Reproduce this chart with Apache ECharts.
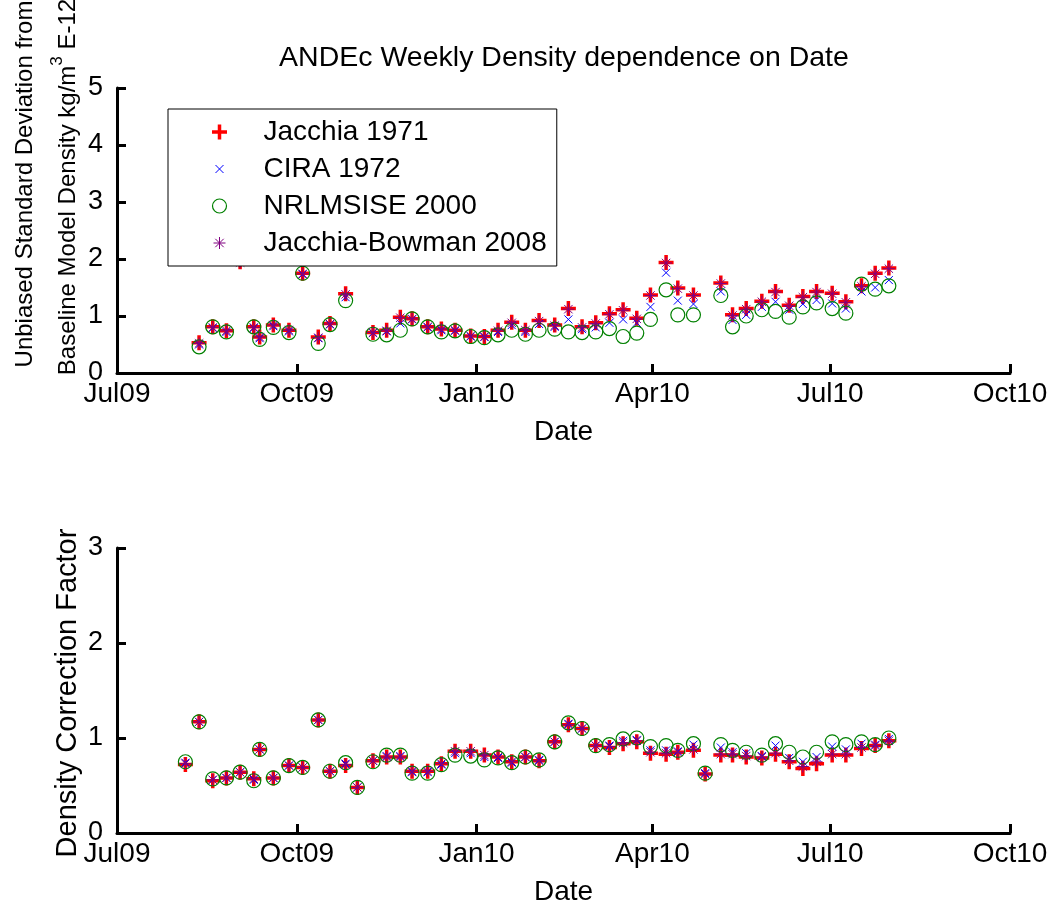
<!DOCTYPE html>
<html><head><meta charset="utf-8">
<script src="https://cdn.jsdelivr.net/npm/echarts@6/dist/echarts.min.js"></script>
<style>html,body{margin:0;padding:0;background:#fff}#c{width:1055px;height:909px}</style>
</head><body><div id="c"></div>
<script>
// Weekly dates
const dates = ['2009-08-05','2009-08-12','2009-08-19','2009-08-26','2009-09-02','2009-09-09','2009-09-12','2009-09-19','2009-09-27','2009-10-04',
 '2009-10-12','2009-10-18','2009-10-26','2009-11-01','2009-11-09','2009-11-16','2009-11-23','2009-11-29','2009-12-07','2009-12-14',
 '2009-12-21','2009-12-29','2010-01-05','2010-01-12','2010-01-19','2010-01-26','2010-02-02','2010-02-10','2010-02-17','2010-02-24',
 '2010-03-03','2010-03-10','2010-03-17','2010-03-24','2010-03-31','2010-04-08','2010-04-14','2010-04-22','2010-04-28','2010-05-06',
 '2010-05-12','2010-05-19','2010-05-27','2010-06-03','2010-06-10','2010-06-17','2010-06-24','2010-07-02','2010-07-09','2010-07-17',
 '2010-07-24','2010-07-31'];

// Top panel: unbiased standard deviation (kg/m^3 E-12)
const stdJacchia71 = [null,0.53,0.81,0.74,1.95,0.81,0.63,0.84,0.75,1.75, 0.63,0.87,1.39,null,0.71,0.75,0.98,0.95,0.81,0.77,
 0.75,0.65,0.64,0.75,0.89,0.75,0.92,0.84,1.13,0.81, 0.88,1.04,1.11,0.96,1.37,1.94,1.49,1.37,null,1.58,
 1.02,1.13,1.26,1.43,1.19,1.34,1.43,1.40,1.25,1.53, 1.75,1.84];
const stdCira72 = [null,0.50,0.79,0.72,2.00,0.79,0.61,0.82,0.73,1.73, 0.61,0.85,1.33,null,0.70,0.73,0.87,0.94,0.80,0.75,
 0.74,0.64,0.63,0.72,0.84,0.72,0.86,0.81,0.94,0.77, 0.80,0.88,0.94,0.88,1.16,1.76,1.27,1.21,null,1.43,
 0.93,1.02,1.16,1.25,1.11,1.21,1.28,1.22,1.13,1.43, 1.50,1.63];
const stdNrlmsise00 = [null,0.46,0.81,0.72,2.10,0.81,0.59,0.80,0.71,1.75, 0.52,0.85,1.27,null,0.68,0.67,0.75,0.95,0.81,0.72,
 0.74,0.64,0.62,0.67,0.75,0.68,0.75,0.77,0.72,0.71, 0.72,0.78,0.64,0.70,0.94,1.46,1.02,1.02,null,1.36,
 0.81,1.00,1.11,1.08,0.98,1.16,1.23,1.13,1.05,1.56, 1.47,1.53];
const stdJB2008 = [null,0.52,0.80,0.74,1.94,0.80,0.63,0.84,0.75,1.74, 0.62,0.86,1.38,null,0.71,0.74,0.97,0.95,0.81,0.77,
 0.75,0.65,0.64,0.74,0.88,0.75,0.91,0.83,1.12,0.80, 0.87,1.03,1.10,0.95,1.36,1.93,1.48,1.36,null,1.57,
 1.01,1.12,1.25,1.42,1.18,1.33,1.42,1.39,1.24,1.52, 1.74,1.83];

// Bottom panel: density correction factor
const corJacchia71 = [0.72,1.17,0.55,0.58,0.64,0.57,0.88,0.58,0.71,0.69, 1.19,0.65,0.71,0.48,0.76,0.80,0.80,0.65,0.65,0.73,
 0.86,0.86,0.82,0.80,0.75,0.80,0.76,0.96,1.14,1.10, 0.92,0.90,0.94,0.96,0.84,0.83,0.85,0.87,0.62,0.82,
 0.82,0.80,0.79,0.83,0.75,0.68,0.73,0.82,0.82,0.89, 0.92,0.97];
const corCira72 = [0.74,1.17,0.56,0.58,0.64,0.56,0.88,0.58,0.71,0.69, 1.19,0.65,0.73,0.48,0.76,0.81,0.81,0.64,0.64,0.72,
 0.84,0.84,0.80,0.79,0.74,0.80,0.77,0.96,1.15,1.10, 0.92,0.92,0.97,0.98,0.87,0.87,0.86,0.93,0.63,0.90,
 0.85,0.84,0.81,0.92,0.79,0.75,0.80,0.91,0.88,0.94, 0.93,0.99];
const corNrlmsise00 = [0.75,1.17,0.57,0.58,0.64,0.55,0.88,0.58,0.71,0.69, 1.19,0.65,0.74,0.48,0.75,0.82,0.82,0.63,0.63,0.72,
 0.82,0.81,0.77,0.79,0.74,0.80,0.77,0.96,1.16,1.10, 0.92,0.93,0.99,1.00,0.91,0.92,0.87,0.94,0.63,0.93,
 0.87,0.85,0.82,0.94,0.85,0.80,0.85,0.96,0.93,0.96, 0.93,1.00];
const corJB2008 = [0.73,1.17,0.56,0.58,0.64,0.57,0.88,0.58,0.71,0.69, 1.19,0.65,0.72,0.48,0.76,0.80,0.80,0.65,0.65,0.73,
 0.86,0.86,0.82,0.80,0.75,0.80,0.76,0.96,1.14,1.10, 0.92,0.91,0.95,0.97,0.85,0.84,0.85,0.88,0.62,0.83,
 0.83,0.81,0.80,0.84,0.76,0.70,0.75,0.83,0.83,0.90, 0.92,0.97];

const tickDates = ['2009-07-01','2009-10-01','2010-01-01','2010-04-01','2010-07-01','2010-10-01'];
const tickLabels = ['Jul09','Oct09','Jan10','Apr10','Jul10','Oct10'];
const seriesNames = ['Jacchia 1971','CIRA 1972','NRLMSISE 2000','Jacchia-Bowman 2008'];

const FONT = 'Liberation Sans, Arial, sans-serif';
const DAY = 86400000;
const origin = Date.parse(tickDates[0]);
const toDay = s => (Date.parse(s) - origin) / DAY;
const tickDays = tickDates.map(toDay);
const labelFor = v => { let best = 0; tickDays.forEach((d, i) => { if (Math.abs(d - v) < Math.abs(tickDays[best] - v)) best = i; }); return tickLabels[best]; };

const markers = [
  { symbol: 'path://M0,0M16,16M0.5,8L15.5,8M8,0.5L8,15.5', color: '#ff0000', width: 3.5 },
  { symbol: 'path://M0,0M16,16M4,4L12,12M12,4L4,12', color: '#0000ff', width: 1 },
  { symbol: 'path://M0,0M16,16M15,8A7,7,0,1,1,1,8A7,7,0,1,1,15,8', color: '#008000', width: 1.2 },
  { symbol: 'path://M0,0M16,16M8,2L8,14M2,8L14,8M3.8,3.8L12.2,12.2M12.2,3.8L3.8,12.2', color: '#800080', width: 1 }
];

function mk(vals, k, gi) {
  const m = markers[k];
  return {
    type: 'scatter', name: seriesNames[k], xAxisIndex: gi, yAxisIndex: gi,
    symbol: m.symbol, symbolSize: 16,
    itemStyle: { color: 'none', borderColor: m.color, borderWidth: m.width, opacity: 1 },
    emphasis: { disabled: true },
    data: dates.map((d, i) => vals[i] == null ? null : [toDay(d), vals[i]]).filter(Boolean)
  };
}

function xAx(gi) {
  return {
    type: 'value', gridIndex: gi, min: tickDays[0], max: tickDays[tickDays.length - 1],
    splitLine: { show: false },
    axisLine: { show: true, onZero: false, lineStyle: { color: '#000', width: 3 } },
    axisTick: { show: true, inside: true, length: 9, lineStyle: { color: '#000', width: 3 }, customValues: tickDays },
    axisLabel: { customValues: tickDays, formatter: labelFor, color: '#000', fontSize: 28, fontFamily: FONT, margin: 7 },
    name: 'Date', nameLocation: 'middle', nameGap: 45,
    nameTextStyle: { color: '#000', fontSize: 28, fontFamily: FONT }
  };
}
function yAx(gi, max) {
  return {
    type: 'value', gridIndex: gi, min: 0, max: max, interval: 1,
    splitLine: { show: false },
    axisLine: { show: true, onZero: false, lineStyle: { color: '#000', width: 3 } },
    axisTick: { show: true, inside: true, length: 9, lineStyle: { color: '#000', width: 3 } },
    axisLabel: { color: '#000', fontSize: 27, fontFamily: FONT, margin: 14 }
  };
}

const chart = echarts.init(document.getElementById('c'), null, { renderer: 'canvas' });
chart.setOption({
  animation: false,
  backgroundColor: '#fff',
  grid: [
    { left: 117, right: 45, top: 88, height: 285, outerBoundsMode: 'none' },
    { left: 117, right: 45, top: 548, height: 285, outerBoundsMode: 'none' }
  ],
  xAxis: [xAx(0), xAx(1)],
  yAxis: [yAx(0, 5), yAx(1, 3)],
  legend: {
    orient: 'vertical', left: 168, top: 109,
    padding: [9, 10, 9, 41], itemGap: 9, itemWidth: 16, itemHeight: 16,
    backgroundColor: '#fff', borderColor: '#000', borderWidth: 1, borderRadius: 0,
    selectedMode: false,
    textStyle: { color: '#000', fontSize: 28, fontFamily: FONT, lineHeight: 28, padding: [0, 0, 0, 31] },
    data: seriesNames.map((n, k) => ({ name: n, icon: markers[k].symbol,
      itemStyle: { color: 'none', borderColor: markers[k].color, borderWidth: markers[k].width } }))
  },
  graphic: [
    { type: 'text', x: 564, y: 58, style: { text: 'ANDEc Weekly Density dependence on Date', fill: '#000', fontSize: 28.5, fontFamily: FONT, align: 'center', verticalAlign: 'middle' } },
    { type: 'text', x: 25, y: 184, rotation: Math.PI / 2, style: { text: 'Unbiased Standard Deviation from', fill: '#000', fontSize: 24, fontFamily: FONT, align: 'center', verticalAlign: 'middle' } },
    { type: 'text', x: 68, y: 187, rotation: Math.PI / 2, style: { text: 'Baseline Model Density kg/m{sup|3} E-12', fill: '#000', fontSize: 24, fontFamily: FONT, align: 'center', verticalAlign: 'middle',
      rich: { sup: { fontSize: 17, fontFamily: FONT, fill: '#000', padding: [0, 0, 22, 0] } } } },
    { type: 'text', x: 68, y: 693, rotation: Math.PI / 2, style: { text: 'Density Correction Factor', fill: '#000', fontSize: 29, fontFamily: FONT, align: 'center', verticalAlign: 'middle' } }
  ],
  series: [
    mk(stdJacchia71, 0, 0), mk(stdCira72, 1, 0), mk(stdNrlmsise00, 2, 0), mk(stdJB2008, 3, 0),
    mk(corJacchia71, 0, 1), mk(corCira72, 1, 1), mk(corNrlmsise00, 2, 1), mk(corJB2008, 3, 1)
  ]
});
</script></body></html>
